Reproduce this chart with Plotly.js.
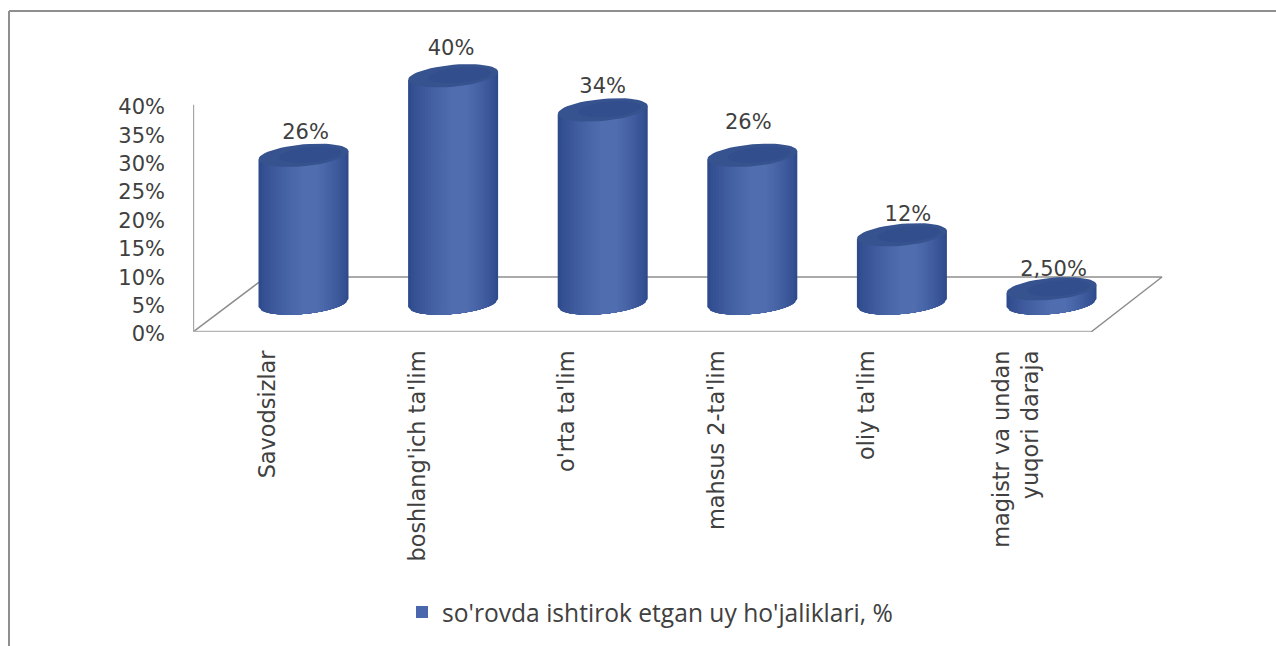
<!DOCTYPE html>
<html><head><meta charset="utf-8">
<script src="https://cdn.plot.ly/plotly-3.0.1.min.js"></script>
<style>html,body{margin:0;padding:0;background:#fff}#c{width:1276px;height:646px}</style>
</head><body><div id="c"></div>
<script>
const categories = ["Savodsizlar","boshlang'ich ta'lim","o'rta ta'lim","mahsus 2-ta'lim","oliy ta'lim","magistr va undan<br>yuqori daraja"];
const values = [26,40,34,26,12,2.5];
const valueLabels = ["26%","40%","34%","26%","12%","2,50%"];
const yTicks = [0,5,10,15,20,25,30,35,40];
const seriesName = "so'rovda ishtirok etgan uy ho'jaliklari, %";

// layout in pixels of the picture
const W=1276,H=646,L=193,R=1165,T=30,B=332;
const catPx=149.6, cat0Px=268, unitPx=5.68;
const FONT='"DejaVu Sans", sans-serif', LEGFONT='"Open Sans", sans-serif', TXT='#404040';
const x2k=p=>(p-cat0Px)/catPx, y2v=p=>(B-p)/unitPx;
const px2x=p=>p/catPx, px2y=p=>p/unitPx;

// cylinder geometry (3D depth offset on the floor)
const depthX=px2x(35.5), floorY=px2y(29), a=px2x(45), b=px2y(11), skew=px2y(4);
const xc=i=>i+depthX;

const traces=[];
// floor & wall
traces.push({type:'scatter',mode:'lines',x:[-0.5,-0.5],y:[0,40],line:{color:'#a8a8a8',width:2},cliponaxis:false,showlegend:false,hoverinfo:'skip'});
traces.push({type:'scatter',mode:'lines',x:[193,266,1162,1091].map(x2k),y:[332,277,277,332].map(y2v),line:{color:'#8e8e8e',width:1.5},cliponaxis:false,showlegend:false,hoverinfo:'skip'});
traces.push({type:'scatter',mode:'lines',x:[x2k(193),x2k(1091)],y:[0,0],line:{color:'#b4b4b4',width:2.5},cliponaxis:false,showlegend:false,hoverinfo:'skip'});

// value bar (carries the legend; sits inside the cylinder silhouette)
traces.push({type:'bar',x:categories.map((_,i)=>xc(i)),y:values,base:floorY,width:a,name:seriesName,marker:{color:'#4a66ac',line:{width:0}},hoverinfo:'y',showlegend:true});

// cylinder bodies: nested strips make the horizontal shading
const dark=[46,74,140], light=[80,109,176];
const N=16;
for(let n=0;n<N;n++){
  const t=n/(N-1), e=Math.pow(t,0.75);
  const col=dark.map((d,k)=>Math.round(d+(light[k]-d)*e));
  const xl=-a+a*0.95*n/N*1.05, xr=a-a*0.72*n/N;
  const X=[],Y=[];
  values.forEach((v,i)=>{
    const top=floorY+v, bot=floorY;
    X.push(xc(i)+xl,xc(i)+xr); Y.push(top+skew*xl/a,top+skew*xr/a);
    const S=24;
    for(let s=0;s<=S;s++){
      const u=xr+(xl-xr)*s/S, r=Math.max(0,1-(u/a)*(u/a));
      X.push(xc(i)+u); Y.push(bot+skew*u/a-b*Math.sqrt(r));
    }
    X.push(xc(i)+xl,null); Y.push(top+skew*xl/a,null);
  });
  traces.push({type:'scatter',mode:'lines',x:X,y:Y,fill:'toself',fillcolor:`rgb(${col})`,line:{width:0,color:`rgb(${col})`},showlegend:false,hoverinfo:'skip',cliponaxis:false});
}
// caps
const capCols=['#37538f','#324e8d'];
capCols.forEach((c,n)=>{
  const X=[],Y=[],sc=n?0.7:1, off=n?a*0.15:0;
  values.forEach((v,i)=>{
    for(let s=0;s<=48;s++){
      const th=2*Math.PI*s/48, u=a*sc*Math.cos(th)+off;
      X.push(xc(i)+u); Y.push(floorY+v+skew*u/a+b*sc*Math.sin(th));
    }
    X.push(null);Y.push(null);
  });
  traces.push({type:'scatter',mode:'lines',x:X,y:Y,fill:'toself',fillcolor:c,line:{width:0,color:c},showlegend:false,hoverinfo:'skip',cliponaxis:false});
});
// value labels
const labelDx=[2,-2,0,-4,6,2], labelDy=[-1,4,0,9,-3,-4];
traces.push({type:'scatter',mode:'text',
  x:values.map((_,i)=>xc(i)+px2x(labelDx[i])),
  y:values.map((v,i)=>floorY+v+b+px2y(1+labelDy[i])),
  text:valueLabels,textposition:'top center',textfont:{family:FONT,size:21,color:TXT},showlegend:false,hoverinfo:'skip',cliponaxis:false});

const pw=R-L,ph=B-T;
const layout={width:W,height:H,margin:{l:L,r:W-R,t:T,b:H-B,pad:0},paper_bgcolor:'#fff',plot_bgcolor:'rgba(0,0,0,0)',
  font:{family:FONT,color:TXT},showlegend:true,barmode:'overlay',
  xaxis:{range:[x2k(L),x2k(R)],tickmode:'array',tickvals:categories.map((_,i)=>i),ticktext:categories,tickangle:-90,
    showgrid:false,zeroline:false,showline:false,ticks:'',ticklabelstandoff:13,tickfont:{family:FONT,size:22.4,color:TXT},automargin:false},
  yaxis:{range:[0,(B-T)/unitPx],tickmode:'array',tickvals:yTicks,ticktext:yTicks.map(v=>v+'%'),showgrid:false,zeroline:false,showline:false,ticks:'',ticklabelstandoff:27,ticklabelshift:2,tickfont:{family:FONT,size:21,color:TXT},automargin:false},
  legend:{x:(402-L)/pw,xanchor:'left',y:(B-612)/ph,yanchor:'middle',bgcolor:'rgba(0,0,0,0)',font:{family:LEGFONT,size:24.6,color:TXT},itemwidth:30,orientation:'h'},
  shapes:[{type:'line',xref:'paper',yref:'paper',x0:(9-L)/pw,x1:(1276-L)/pw,y0:(B-11)/ph,y1:(B-11)/ph,line:{color:'#8f8f8f',width:2},layer:'below'},
          {type:'line',xref:'paper',yref:'paper',x0:(9-L)/pw,x1:(9-L)/pw,y0:(B-11)/ph,y1:(B-646)/ph,line:{color:'#8f8f8f',width:2},layer:'below'}]
};
Plotly.newPlot('c',traces,layout,{displayModeBar:false,staticPlot:true});
</script></body></html>
